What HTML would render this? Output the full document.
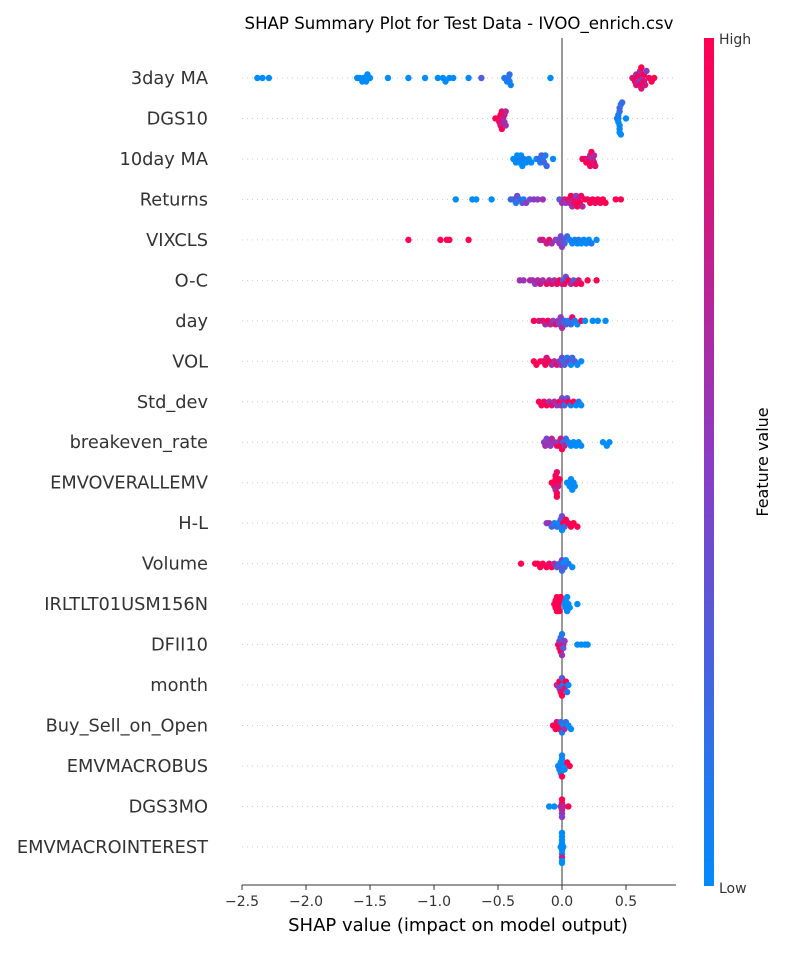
<!DOCTYPE html>
<html><head><meta charset="utf-8"><style>
body{margin:0;background:#fff;}
svg text{font-family:"DejaVu Sans","Liberation Sans",sans-serif;}
</style></head><body>
<svg id="chart" width="800" height="950" xmlns="http://www.w3.org/2000/svg">
<defs><linearGradient id="cb" x1="0" y1="1" x2="0" y2="0">
<stop offset="0" stop-color="#008bfb"/><stop offset="0.5" stop-color="#8a3cc4"/><stop offset="1" stop-color="#ff0052"/></linearGradient></defs>
<text x="459" y="29" font-size="16.6" text-anchor="middle" fill="#000">SHAP Summary Plot for Test Data - IVOO_enrich.csv</text>
<g id="grid"></g>
<line x1="562" y1="38" x2="562" y2="885" stroke="#999" stroke-width="2"/>
<g id="dots"></g>
<g id="labels"></g>
<line x1="242" y1="885" x2="676" y2="885" stroke="#333" stroke-width="1"/>
<g id="xticks"></g>
<text x="458" y="931" font-size="18" text-anchor="middle" fill="#000">SHAP value (impact on model output)</text>
<rect x="704" y="38" width="10" height="848" fill="url(#cb)"/>
<text x="719" y="44" font-size="14" fill="#333">High</text>
<text x="719" y="893" font-size="14" fill="#333">Low</text>
<text transform="translate(768,462) rotate(-90)" font-size="16" text-anchor="middle" fill="#000">Feature value</text>
</svg>
<script>
const features=["3day MA","DGS10","10day MA","Returns","VIXCLS","O-C","day","VOL","Std_dev","breakeven_rate","EMVOVERALLEMV","H-L","Volume","IRLTLT01USM156N","DFII10","month","Buy_Sell_on_Open","EMVMACROBUS","DGS3MO","EMVMACROINTEREST"];
const xTicks=[-2.5,-2.0,-1.5,-1.0,-0.5,0.0,0.5];
const shap0=[-2.38,-2.34,-2.29,-1.6,-1.58,-1.56,-1.55,-1.53,-1.52,-1.5,-1.36,-1.2,-1.07,-0.97,-0.93,-0.91,-0.88,-0.85,-0.73,-0.63,-0.45,-0.43,-0.42,-0.41,-0.41,-0.4,-0.09,0.55,0.56,0.57,0.58,0.58,0.59,0.6,0.6,0.61,0.61,0.62,0.62,0.63,0.64,0.64,0.65,0.66,0.68,0.7,0.72];
const feat0=[0,0,0,0,0,0,0,0,0,0,0,0,0,0,0,0,0,0,0,0.3,0.1,0.05,0.2,0.1,0.15,0.05,0,0.7,0.9,1,0.6,0.8,1,0.5,0.9,1,0.7,0.85,1,0.6,0.9,1,0.8,0.5,0.95,1,1];
const shap1=[-0.52,-0.5,-0.49,-0.48,-0.48,-0.47,-0.47,-0.46,-0.45,-0.45,-0.44,-0.44,0.43,0.44,0.44,0.44,0.45,0.45,0.45,0.45,0.45,0.46,0.46,0.47,0.5];
const feat1=[1,1,0.9,1,0.8,0.95,1,0.7,0.6,0.8,0.6,0.7,0.2,0.05,0,0.1,0,0.1,0.05,0.3,0,0.1,0,0.2,0];
const shap2=[-0.38,-0.36,-0.35,-0.34,-0.33,-0.32,-0.31,-0.3,-0.28,-0.26,-0.24,-0.2,-0.18,-0.17,-0.16,-0.15,-0.14,-0.13,-0.12,-0.07,0.16,0.18,0.19,0.2,0.21,0.22,0.22,0.23,0.24,0.25,0.25,0.26];
const feat2=[0,0,0,0.05,0,0,0,0.1,0,0,0,0,0.2,0.1,0.3,0.15,0.25,0.1,0.2,0,1,0.9,1,0.8,1,0.7,0.95,1,0.6,0.85,0.7,0.9];
const shap3=[-0.83,-0.7,-0.67,-0.55,-0.4,-0.38,-0.36,-0.35,-0.33,-0.31,-0.3,-0.28,-0.25,-0.22,-0.19,-0.15,-0.02,0,0.02,0.03,0.05,0.06,0.07,0.08,0.09,0.1,0.11,0.12,0.13,0.14,0.15,0.16,0.18,0.2,0.22,0.24,0.26,0.28,0.3,0.32,0.34,0.42,0.46];
const feat3=[0,0,0,0,0.2,0.3,0.1,0.4,0.2,0.35,0.1,0.5,0.4,0.55,0.5,0.6,0.3,0.6,0.8,0.5,0.9,0.7,1,0.6,0.85,0.95,0.5,1,0.8,1,0.9,0.7,1,0.95,1,1,0.9,1,1,1,1,1,1];
const shap4=[-1.2,-0.95,-0.9,-0.88,-0.73,-0.17,-0.15,-0.12,-0.1,-0.08,-0.05,-0.03,-0.02,-0.01,0,0.01,0.02,0.04,0.06,0.08,0.1,0.12,0.13,0.15,0.17,0.19,0.21,0.23,0.27];
const feat4=[1,1,1,1,1,0.7,0.8,0.75,0.9,0.65,0.5,0.45,0.55,0.4,0.5,0.35,0.3,0.2,0.1,0,0.05,0,0.1,0,0.05,0,0,0.1,0];
const shap5=[-0.33,-0.3,-0.25,-0.23,-0.21,-0.19,-0.17,-0.15,-0.12,-0.1,-0.08,-0.06,-0.04,-0.02,0,0.01,0.02,0.03,0.05,0.07,0.09,0.11,0.13,0.15,0.2,0.27];
const feat5=[0.6,0.55,0.7,0.6,0.5,0.65,0.8,0.6,0.9,0.7,0.85,0.6,0.9,1,0.8,0.2,0.9,0.4,1,0.7,0.3,0.9,0.8,1,1,1];
const shap6=[-0.22,-0.18,-0.15,-0.13,-0.11,-0.09,-0.07,-0.05,-0.03,-0.02,-0.01,0,0.02,0.03,0.05,0.07,0.08,0.1,0.12,0.15,0.18,0.24,0.28,0.34];
const feat6=[1,0.8,0.9,0.6,1,0.7,0.5,0.9,0.6,0.4,0.5,0.7,0.2,0.3,0.1,0.2,0.9,0.1,0,1,0,0,0,0];
const shap7=[-0.22,-0.2,-0.17,-0.15,-0.13,-0.12,-0.1,-0.08,-0.06,-0.04,-0.02,-0.01,0,0.01,0.02,0.04,0.05,0.07,0.08,0.1,0.12,0.15];
const feat7=[1,1,1,0.9,1,0.8,1,0.6,0.7,0.9,0.5,0.6,0.4,0.2,0.3,0.1,0.4,0,0.2,0.3,0,0];
const shap8=[-0.18,-0.16,-0.14,-0.12,-0.1,-0.08,-0.06,-0.04,-0.02,-0.01,0,0.01,0.02,0.04,0.05,0.07,0.09,0.11,0.13,0.15];
const feat8=[1,1,0.9,1,0.6,0.9,0.7,0.5,1,0.6,0.4,0.8,0.2,0.3,1,0.1,1,0,0.1,0];
const shap9=[-0.14,-0.13,-0.12,-0.1,-0.09,-0.08,-0.06,-0.04,-0.03,-0.02,-0.01,0,0.01,0.02,0.03,0.05,0.07,0.09,0.11,0.13,0.15,0.32,0.35,0.37];
const feat9=[0.5,0.6,0.45,0.55,0.5,0.7,0.6,0.9,0.5,1,0.8,1,0.3,0.7,0.2,0.1,0,0,0,0,0,0,0,0];
const shap10=[-0.08,-0.06,-0.06,-0.05,-0.05,-0.05,-0.04,-0.04,-0.04,-0.03,-0.03,-0.02,0.04,0.05,0.06,0.07,0.08,0.09,0.1];
const feat10=[1,1,0.9,1,0.6,1,1,0.9,1,1,0.8,1,0,0,0,0,0,0,0];
const shap11=[-0.12,-0.1,-0.08,-0.06,-0.04,-0.03,-0.02,-0.01,0,0,0.01,0.02,0.03,0.05,0.07,0.09,0.12];
const feat11=[0.5,0.6,0.2,0.1,0.3,0,0.1,0.3,0,0.4,1,0.2,1,1,1,1,1];
const shap12=[-0.32,-0.21,-0.19,-0.17,-0.15,-0.12,-0.1,-0.08,-0.06,-0.04,-0.02,-0.01,0,0,0.01,0.02,0.03,0.05,0.08];
const feat12=[1,1,1,1,1,1,0.9,1,0.6,0.3,0.2,0.4,0.5,0.2,0,0.3,0,0.1,0];
const shap13=[-0.06,-0.05,-0.05,-0.04,-0.04,-0.03,-0.03,-0.02,-0.02,-0.01,0.02,0.03,0.03,0.04,0.04,0.05,0.06,0.12];
const feat13=[1,1,1,1,1,1,1,1,1,1,0,0,0,0,0,0,0,0];
const shap14=[-0.03,-0.02,-0.02,-0.01,-0.01,0,0,0.01,0.01,0.02,0.12,0.15,0.18,0.2];
const feat14=[1,0.9,0.5,1,0.2,0.6,0.1,0.8,0.3,0.5,0,0,0,0];
const shap15=[-0.04,-0.03,-0.02,-0.02,-0.01,0,0,0.01,0.02,0.03,0.04,0.05];
const feat15=[1,0.5,0.4,1,0.9,0.3,1,0.1,0.8,1,0.1,0];
const shap16=[-0.07,-0.05,-0.04,-0.03,-0.02,-0.01,0,0.01,0.02,0.03,0.05,0.07];
const feat16=[1,1,0.9,1,1,0.2,0.1,0,0.6,0.2,0,0];
const shap17=[-0.03,-0.02,-0.01,-0.01,0,0,0,0.01,0.02,0.04,0.06];
const feat17=[0,0.1,0,0,0,1,0.05,0,0,1,1];
const shap18=[-0.1,-0.06,-0.01,0,0,0,0,0,0.01,0.05];
const feat18=[0,0,0.6,0.7,0.9,0.6,1,0.5,0.7,1];
const shap19=[-0.01,0,0,0,0,0,0,0,0,0,0.01];
const feat19=[0,0,0,0,0,0.8,0,0,0,0,0];
const shapRows=[shap0,shap1,shap2,shap3,shap4,shap5,shap6,shap7,shap8,shap9,shap10,shap11,shap12,shap13,shap14,shap15,shap16,shap17,shap18,shap19];
const featRows=[feat0,feat1,feat2,feat3,feat4,feat5,feat6,feat7,feat8,feat9,feat10,feat11,feat12,feat13,feat14,feat15,feat16,feat17,feat18,feat19];

const NS="http://www.w3.org/2000/svg";
const xScale=v=>562+128*v;
const yScale=i=>78+i*40.47;
function mk(t,a,p){const e=document.createElementNS(NS,t);for(const k in a)e.setAttribute(k,a[k]);p.appendChild(e);return e;}
function lerp(a,b,t){return Math.round(a+(b-a)*t);}
function color(f){const lo=[0,139,251],mid=[138,60,196],hi=[255,0,82];let a,b,t;
 if(f<0.5){a=lo;b=mid;t=f/0.5;}else{a=mid;b=hi;t=(f-0.5)/0.5;}
 return `rgb(${lerp(a[0],b[0],t)},${lerp(a[1],b[1],t)},${lerp(a[2],b[2],t)})`;}
const grid=document.getElementById('grid'),dots=document.getElementById('dots'),labels=document.getElementById('labels'),xt=document.getElementById('xticks');
features.forEach((name,i)=>{
 const y=yScale(i);
 const g=mk('line',{x1:242,y1:y,x2:676,y2:y,stroke:'#ccc','stroke-width':1,'stroke-dasharray':'1,4'},grid);
 
 
 const t=mk('text',{x:208,y:y+6,'font-size':17.8,'text-anchor':'end',fill:'#333'},labels);
 t.textContent=name;
 
 
 const s=shapRows[i],f=featRows[i];
 const bins={};
 s.forEach((v,j)=>{
  const x=xScale(v);const b=Math.round(x/5);
  const n=bins[b]||0;bins[b]=n+1;
  const k=Math.ceil(n/2)*(n%2?1:-1);
  const off=Math.max(-16,Math.min(16,k*3.5));
  const c=mk('circle',{cx:x,cy:y+off,r:3.2,fill:color(f[j])},dots);
  
  
 });
});
xTicks.forEach(v=>{
 const x=xScale(v);
 const l=mk('line',{x1:x,y1:885,x2:x,y2:890,stroke:'#333'},xt);
 
 
 const t=mk('text',{x:x,y:906,'font-size':14,'text-anchor':'middle',fill:'#333'},xt);
 t.textContent=(v<0?'\u2212':'')+Math.abs(v).toFixed(1);
 
 
});
</script>
</body></html>
